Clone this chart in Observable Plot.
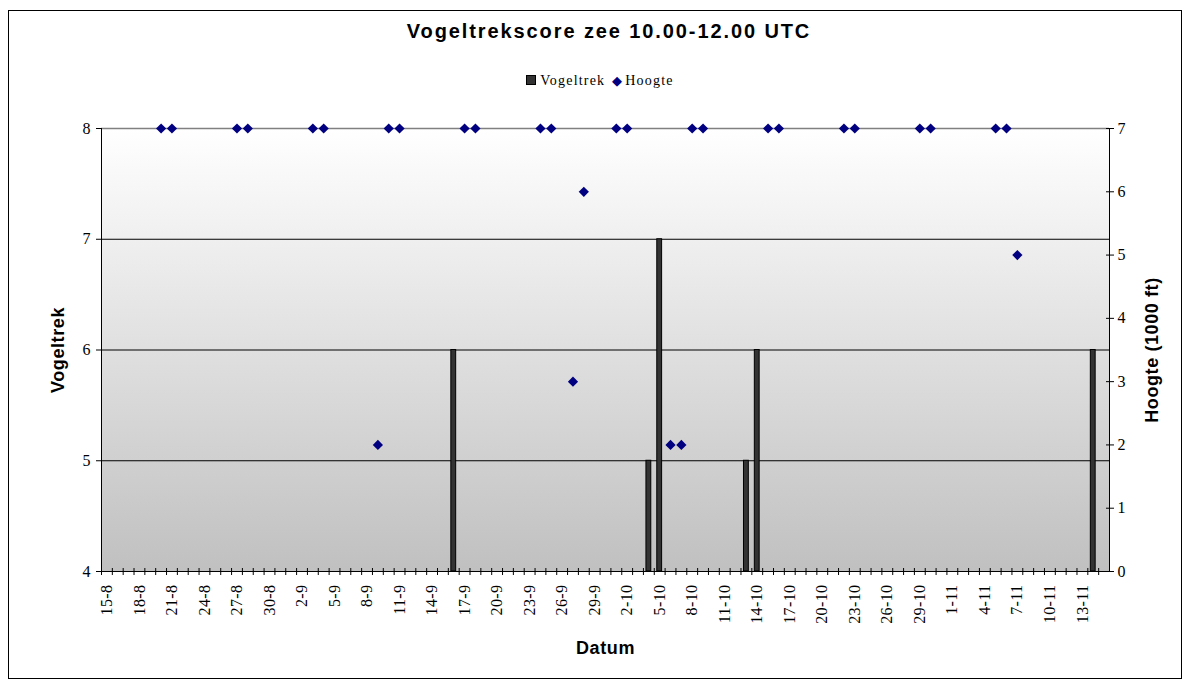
<!DOCTYPE html>
<html>
<head>
<meta charset="utf-8">
<script src="https://cdn.jsdelivr.net/npm/d3@7"></script>
<script src="https://cdn.jsdelivr.net/npm/@observablehq/plot@0.6"></script>
<style>
  html, body { margin: 0; padding: 0; background: #fff; }
  #wrap { position: relative; width: 1192px; height: 690px; overflow: hidden; background: #fff; }
  #border { position: absolute; left: 8px; top: 10px; width: 1174px; height: 669px; border: 1px solid #000; box-sizing: border-box; }
  #title { position: absolute; left: 0; width: 1218px; top: 20px; text-align: center; font-family: "Liberation Sans", Arial, sans-serif; font-weight: bold; font-size: 20px; letter-spacing: 1.9px; color: #000; }
  #legend { position: absolute; left: 0; width: 1200px; top: 73px; text-align: center; font-family: "Liberation Serif", "Times New Roman", serif; font-size: 14px; letter-spacing: 1.2px; color: #000; }
  #legend .sq { display: inline-block; width: 8px; height: 8px; background: #333; border: 1px solid #000; margin-right: 4px; vertical-align: 0px; }
  #legend .dm { color: #000080; font-size: 13px; margin-left: 2px; margin-right: 2px; }
  #chart { position: absolute; left: 0; top: 100px; }
</style>
</head>
<body>
<div id="wrap">
  <div id="border"></div>
  <div id="title">Vogeltrekscore zee 10.00-12.00 UTC</div>
  <div id="legend"><span class="sq"></span>Vogeltrek <span class="dm">&#9670;</span>Hoogte</div>
  <div id="chart"></div>
</div>
<script>
// Categories (daily dates)
const categories = [
  "15-8","16-8","17-8","18-8","19-8","20-8","21-8","22-8","23-8","24-8","25-8","26-8","27-8","28-8","29-8","30-8","31-8",
  "1-9","2-9","3-9","4-9","5-9","6-9","7-9","8-9","9-9","10-9","11-9","12-9","13-9","14-9","15-9","16-9","17-9","18-9","19-9","20-9",
  "21-9","22-9","23-9","24-9","25-9","26-9","27-9","28-9","29-9","30-9",
  "1-10","2-10","3-10","4-10","5-10","6-10","7-10","8-10","9-10","10-10","11-10","12-10","13-10","14-10","15-10","16-10","17-10","18-10",
  "19-10","20-10","21-10","22-10","23-10","24-10","25-10","26-10","27-10","28-10","29-10","30-10","31-10",
  "1-11","2-11","3-11","4-11","5-11","6-11","7-11","8-11","9-11","10-11","11-11","12-11","13-11","14-11","15-11"
];

// Vogeltrek series (left axis)
const vogeltrekDates  = ["16-9","4-10","5-10","13-10","14-10","14-11"];
const vogeltrekValues = [6, 5, 7, 5, 6, 6];

// Hoogte series (right axis, 1000 ft)
const hoogteDates = ["20-8","21-8","27-8","28-8","3-9","4-9","9-9","10-9","11-9","17-9","18-9","24-9","25-9","27-9","28-9",
  "1-10","2-10","6-10","7-10","8-10","9-10","15-10","16-10","22-10","23-10","29-10","30-10","5-11","6-11","7-11"];
const hoogteValues = [7,7,7,7,7,7,2,7,7,7,7,7,7,3,6,
  7,7,2,2,7,7,7,7,7,7,7,7,7,7,5];

// Axis ticks
const leftTicks = [4, 5, 6, 7, 8];
const rightTicks = [0, 1, 2, 3, 4, 5, 6, 7];
const gridValues = [5, 6, 7];
const labelDates = categories.filter((d, i) => i % 3 === 0);

const vogeltrek = vogeltrekDates.map((d, i) => ({date: d, value: vogeltrekValues[i]}));
const hoogte = hoogteDates.map((d, i) => ({date: d, value: hoogteValues[i]}));

// Map right axis (0..7) onto left scale (4..8)
const yMin = 4, yMax = 8, hMax = 7;
const toLeft = h => yMin + h * (yMax - yMin) / hMax;

const width = 1192, height = 590;
const marginLeft = 101, marginRight = 83, marginTop = 28, marginBottom = 119;
const bw = (width - marginLeft - marginRight) / categories.length;

const serif = "Liberation Serif, Times New Roman, serif";
const sans = "Liberation Sans, Arial, sans-serif";

const defs = () => {
  const g = d3.create("svg:defs");
  const lg = g.append("linearGradient").attr("id", "bgGrad").attr("x1", 0).attr("y1", 0).attr("x2", 0).attr("y2", 1);
  lg.append("stop").attr("offset", "0%").attr("stop-color", "#ffffff");
  lg.append("stop").attr("offset", "100%").attr("stop-color", "#c0c0c0");
  return g.node();
};

const chart = Plot.plot({
  width, height, marginLeft, marginRight, marginTop, marginBottom,
  style: {fontFamily: serif, fontSize: "15px", color: "#000", background: "transparent", overflow: "visible"},
  x: {type: "band", domain: categories, padding: 0},
  y: {domain: [yMin, yMax]},
  marks: [
    defs,
    Plot.frame({fill: "url(#bgGrad)", stroke: "none"}),
    Plot.ruleY(gridValues, {stroke: "#000", strokeWidth: 1}),
    Plot.ruleY([yMax], {stroke: "#808080", strokeWidth: 1.5}),
    Plot.barY(vogeltrek, {x: "date", y1: yMin, y2: "value", fill: "#333333", stroke: "#000", strokeWidth: 1, insetLeft: 3, insetRight: 3}),
    Plot.dot(hoogte, {x: "date", y: d => toLeft(d.value), symbol: "diamond2", r: 4.6, fill: "#000080", stroke: "none"}),
    // axis lines
    Plot.frame({anchor: "left", stroke: "#000"}),
    Plot.frame({anchor: "right", stroke: "#000"}),
    Plot.frame({anchor: "bottom", stroke: "#000"}),
    // x ticks at category boundaries
    Plot.axisX({ticks: categories, tickFormat: () => "", tickSize: 7, dx: -bw / 2, dy: -3, stroke: "#000", label: null}),
    // x labels every third day
    Plot.axisX({ticks: labelDates, tickSize: 0, tickPadding: 13, tickRotate: -90, fontSize: 16, fontFamily: serif, label: null}),
    // left axis
    Plot.axisY({ticks: leftTicks, tickFormat: d => String(d), tickSize: 5, tickPadding: 6, fontFamily: serif, fontSize: 16, label: null}),
    // right axis (Hoogte), crossing ticks
    Plot.axisY({anchor: "right", ticks: rightTicks.map(toLeft), tickFormat: v => String(Math.round((v - yMin) * hMax / (yMax - yMin))), tickSize: 8, dx: -4, tickPadding: 4, fontFamily: serif, fontSize: 16, label: null}),
    // axis titles
    Plot.text(["Vogeltrek"], {text: d => d, frameAnchor: "left", textAnchor: "middle", dx: -43, rotate: -90, fontFamily: sans, fontWeight: "bold", fontSize: 18, fill: "#000"}),
    Plot.text(["Hoogte (1000 ft)"], {text: d => d, frameAnchor: "right", textAnchor: "middle", dx: 43, rotate: -90, fontFamily: sans, fontWeight: "bold", fontSize: 18, fill: "#000"}),
    Plot.text(["Datum"], {text: d => d, frameAnchor: "bottom", dy: 82, fontFamily: sans, fontWeight: "bold", fontSize: 18, fill: "#000"})
  ]
});
// slight letter spacing on texts to match the original rendering
d3.select(chart).selectAll("text").each(function() {
  const t = this.textContent;
  if (t === "Vogeltrek" || t === "Hoogte (1000 ft)" || t === "Datum") this.setAttribute("letter-spacing", "0.6px");
  else if (t.includes("-")) this.setAttribute("letter-spacing", "0.4px");
});
document.getElementById("chart").appendChild(chart);
</script>
</body>
</html>
